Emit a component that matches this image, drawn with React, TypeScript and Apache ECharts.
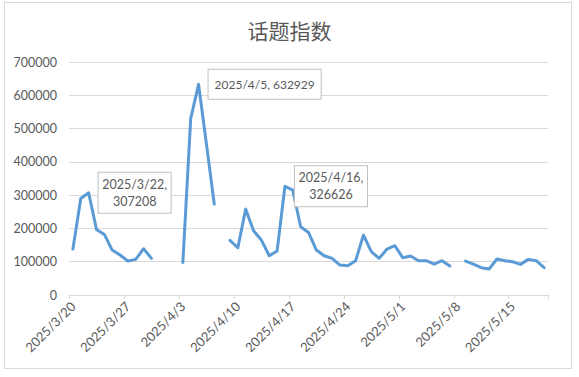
import React, { useEffect, useRef } from "react";
import * as echarts from "echarts";

// Category labels: one per day, 2025/3/20 .. 2025/5/19
const dayLabel = (i: number) => {
  const d = new Date(2025, 2, 20 + i);
  return `${d.getFullYear()}/${d.getMonth() + 1}/${d.getDate()}`;
};
const categories: string[] = Array.from({ length: 61 }, (_, i) => dayLabel(i));

// 话题指数 values (null = no data that day)
const values: (number | null)[] = [
  138000, 290000, 307208, 197000, 182000, 135000, 120000, 102000, 107000, 139000, // 3/20-3/29
  110000, null, null, null, 98000, 530000, 632929, 454000, 273000, null, // 3/30-4/8
  164000, 142000, 258000, 193000, 165000, 118000, 132000, 326626, 315000, 205000, // 4/9-4/18
  188000, 135000, 118000, 110000, 90000, 88000, 103000, 180000, 130000, 110000, // 4/19-4/28
  138000, 148000, 112000, 117000, 103000, 103000, 93000, 103000, 87000, null, // 4/29-5/8
  102000, 93000, 82000, 78000, 108000, 103000, 100000, 92000, 107000, 103000, // 5/9-5/18
  82000, // 5/19
];

const yTicks = [0, 100000, 200000, 300000, 400000, 500000, 600000, 700000];

// data-label callouts: date and whether the label wraps after the comma
const calloutDates = ["2025/3/22", "2025/4/5", "2025/4/16"];
const calloutWrap = [true, false, true];

const TEXT = "#595959";
const GRID = "#d9d9d9";
const FONT = 'Lato, "Noto Sans CJK SC", sans-serif';

export default function App() {
  const ref = useRef<HTMLDivElement>(null);

  useEffect(() => {
    document.body.style.margin = "0";
    if (!ref.current) return;
    const chart = echarts.init(ref.current, undefined, { renderer: "svg" });

    const seriesData = values.map((v, i) => {
      const ci = calloutDates.indexOf(categories[i]);
      if (ci < 0 || v === null) return v;
      const wrap = calloutWrap[ci];
      return {
        value: v,
        symbol: "circle",
        symbolSize: 2,
        itemStyle: { color: "rgba(0,0,0,0)", borderWidth: 0 },
        label: {
          show: true,
          position: "right",
          distance: 9,
          formatter: wrap
            ? `{a|${categories[i]},}\n{a|${v}}`
            : `{b|${categories[i]}, ${v}}`,
          backgroundColor: "#ffffff",
          borderColor: "#bfbfbf",
          borderWidth: 1,
          padding: wrap ? [3, 6, 3, 6] : [7, 6, 7, 6],
          rich: {
            a: {
              width: 60,
              align: "center",
              fontSize: 12.5,
              lineHeight: 17,
              color: TEXT,
              fontFamily: FONT,
            },
            b: {
              fontSize: 12,
              lineHeight: 15,
              color: TEXT,
              fontFamily: FONT,
            },
          },
        },
      };
    });

    chart.setOption({
      animation: false,
      backgroundColor: "#ffffff",
      title: {
        text: "话题指数",
        left: "center",
        top: 14,
        textStyle: {
          fontSize: 21,
          fontWeight: "normal",
          color: TEXT,
          fontFamily: '"Noto Sans CJK SC", sans-serif',
        },
      },
      graphic: [
        {
          type: "rect",
          silent: true,
          shape: { x: 4.5, y: 2.5, width: 567, height: 366 },
          style: { fill: "none", stroke: GRID, lineWidth: 1 },
        },
      ],
      grid: { left: 69, right: 31, top: 62, bottom: 82, containLabel: false },
      xAxis: {
        type: "category",
        data: categories,
        boundaryGap: true,
        axisLine: { show: true, lineStyle: { color: GRID, width: 1 } },
        axisTick: { show: true, interval: 6, length: 4, lineStyle: { color: GRID } },
        axisLabel: {
          interval: 6,
          rotate: 45,
          margin: 9,
          fontSize: 13,
          color: TEXT,
          fontFamily: FONT,
        },
        splitLine: { show: false },
      },
      yAxis: {
        type: "value",
        min: yTicks[0],
        max: yTicks[yTicks.length - 1],
        interval: yTicks[1] - yTicks[0],
        axisLine: { show: false },
        axisTick: { show: false },
        axisLabel: {
          margin: 12,
          fontSize: 12.5,
          color: TEXT,
          fontFamily: FONT,
          formatter: (v: number) => String(v),
        },
        splitLine: { show: true, lineStyle: { color: GRID, width: 1 } },
      },
      series: [
        {
          type: "line",
          data: seriesData,
          symbol: "none",
          showSymbol: true,
          showAllSymbol: true,
          connectNulls: false,
          silent: true,
          lineStyle: { color: "#5b9bd5", width: 3, join: "round", cap: "round" },
          itemStyle: { color: "#5b9bd5" },
          labelLayout: { hideOverlap: false },
          z: 3,
        },
      ],
    });

    return () => chart.dispose();
  }, []);

  return <div ref={ref} style={{ width: 579, height: 377 }} />;
}
